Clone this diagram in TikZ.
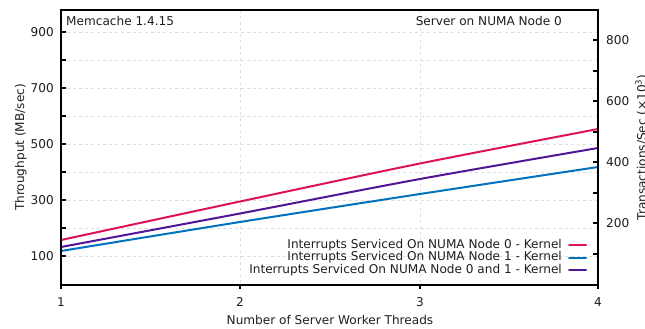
\documentclass[tikz,border=0pt]{standalone}
\usepackage{fontspec}
\setmainfont{DejaVu Sans}
\definecolor{serieszero}{RGB}{220,20,80}
\definecolor{seriesone}{RGB}{0,114,189}
\definecolor{seriesboth}{RGB}{80,22,150}
\definecolor{gridgray}{RGB}{222,222,222}
\definecolor{inkgray}{RGB}{30,30,30}
\tikzset{
  lbl/.style={font=\fontsize{12.1}{13.5}\selectfont, text=inkgray, inner sep=0pt},
  frameline/.style={line width=2.6pt, black},
  tickline/.style={line width=2pt, black},
  gridline/.style={gridgray, line width=0.8pt, dash pattern=on 3pt off 3pt},
  curve/.style={line width=2pt, line cap=round},
}
\begin{document}
\begin{tikzpicture}[x=1pt, y=-1pt]
\useasboundingbox (0,0) rectangle (645,329);

% dashed grid: left axis every 100 units, vertical at 2 and 3 threads
\foreach \v in {100,200,...,900}
  \draw[gridline] (61,{284-0.28*\v}) -- (598,{284-0.28*\v});
\foreach \x in {240,420}
  \draw[gridline] (\x,10) -- (\x,285);

% data curves
\draw[curve, seriesone]  plot[smooth, tension=0.5] coordinates {(61,251) (240,222) (420,194) (598,167)};
\draw[curve, seriesboth] plot[smooth, tension=0.5] coordinates {(61,247) (240,213.5) (420,179) (598,148)};
\draw[curve, serieszero] plot[smooth, tension=0.5] coordinates {(61,240) (240,201.5) (420,163.5) (598,129)};

% left axis ticks and labels (MB/sec)
\foreach \v in {100,200,...,900}
  \draw[tickline] (61,{284-0.28*\v}) -- (66,{284-0.28*\v});
\foreach \v in {100,300,500,700,900}
  \node[lbl, anchor=east] (yl\v) at (54,{284-0.28*\v}) {\v};

% right axis ticks and labels (transactions/sec)
\foreach \v in {100,200,...,800}
  \draw[tickline] (598,{284-0.305*\v}) -- (593,{284-0.305*\v});
\foreach \v in {200,400,600,800}
  \node[lbl, anchor=west] (yr\v) at (606,{284-0.305*\v}) {\v};

% x axis ticks and labels
\foreach \x/\n in {61/1,240/2,420/3,598/4} {
  \draw[tickline] (\x,285) -- (\x,289);
  \node[lbl] (xt\n) at (\x,302) {\n};
}

% plot frame
\draw[frameline] (61,10) rectangle (598,285);

% corner captions
\node[lbl, anchor=west] (app) at (66,20.5) {Memcache 1.4.15};
\node[lbl, anchor=east] (srv) at (562,20.5) {Server on NUMA Node 0};

% legend
\node[lbl, anchor=east] (lg0) at (562,245) {Interrupts Serviced On NUMA Node 0 - Kernel};
\node[lbl, anchor=east] (lg1) at (562,257.5) {Interrupts Serviced On NUMA Node 1 - Kernel};
\node[lbl, anchor=east] (lg2) at (562,270) {Interrupts Serviced On NUMA Node 0 and 1 - Kernel};
\coordinate (s0a) at (569,245);   \coordinate (s0b) at (586,245);
\coordinate (s1a) at (569,257.5); \coordinate (s1b) at (586,257.5);
\coordinate (s2a) at (569,270);   \coordinate (s2b) at (586,270);
\draw[curve, serieszero] (s0a) -- (s0b);
\draw[curve, seriesone]  (s1a) -- (s1b);
\draw[curve, seriesboth] (s2a) -- (s2b);

% axis titles
\node[lbl, rotate=90, anchor=base] (ytitle) at (24,147.5) {Throughput (MB/sec)};
\node[lbl, rotate=90, anchor=base] (y2title) at (646,147.5) {Transactions/Sec (×10\textsuperscript{3})};
\node[lbl] (xtitle) at (330,320) {Number of Server Worker Threads};
\end{tikzpicture}
\end{document}
